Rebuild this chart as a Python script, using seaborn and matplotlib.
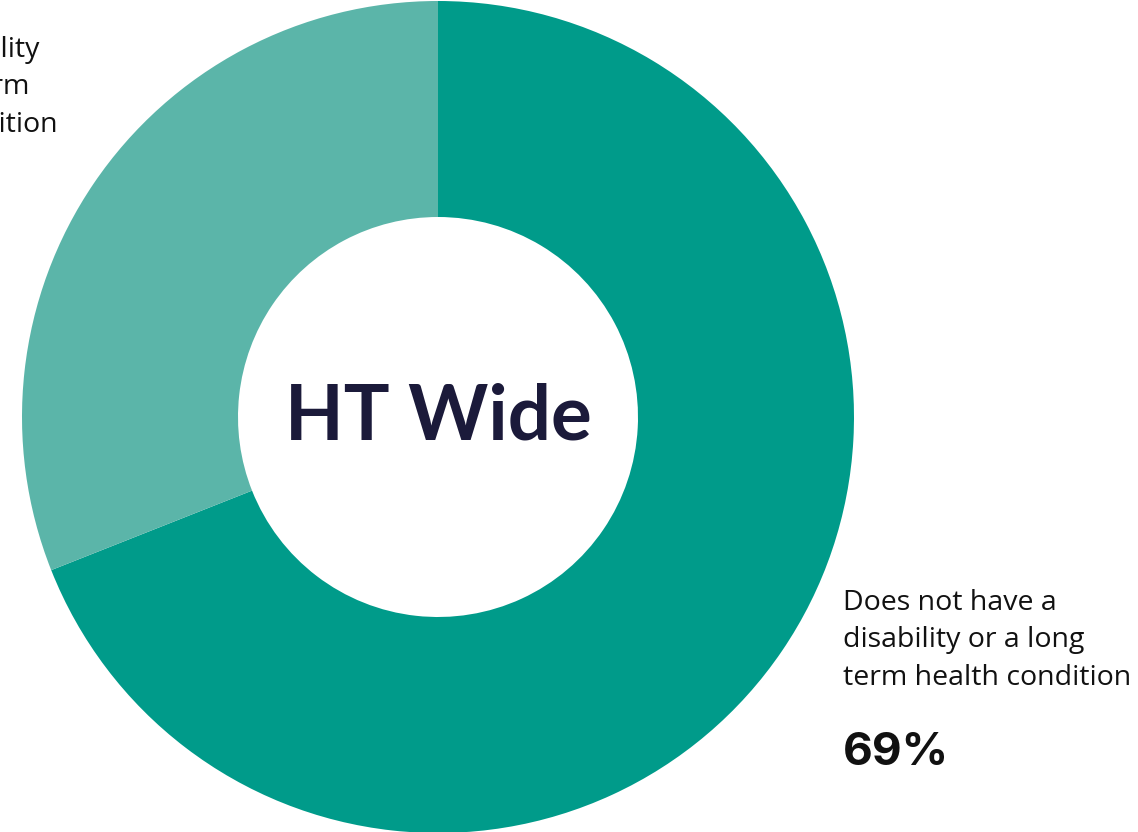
import matplotlib
matplotlib.use("Agg")
import matplotlib.pyplot as plt
import seaborn as sns

categories = ["Does not have a disability or a long term health condition",
              "Has a disability or a long term health condition"]
values = [69, 31]
colors = ["#009B8A", "#5BB5A9"]
center_label = "HT Wide"
right_label = "Does not have a\ndisability or a long\nterm health condition"
right_pct = "69%"
left_label = "Has a disability\nor a long term\nhealth condition"

sns.set_theme(style="white")
plt.rcParams['font.family'] = ['Open Sans', 'DejaVu Sans']

W, H = 1138, 832
fig = plt.figure(figsize=(W / 100, H / 100), dpi=100)
ax = fig.add_axes([0, 0, 1, 1])
ax.set_xlim(0, W)
ax.set_ylim(0, H)
ax.set_aspect("equal")
ax.axis("off")

cx, cy = 438, H - 417
R = 416
ax.pie(values, colors=colors, startangle=90, counterclock=False,
       center=(cx, cy), radius=R,
       wedgeprops=dict(width=R - 200, linewidth=0), frame=True)
ax.set_xlim(0, W)
ax.set_ylim(0, H)
ax.axis("off")

ax.text(cx, cy, center_label, ha="center", va="center", fontsize=55,
        fontweight="bold", color="#1B1A3A", family=["Lato", "DejaVu Sans"])

ax.text(843, H - 589, right_label, ha="left", va="top", fontsize=20.5,
        color="#111111", linespacing=1.45)
ax.text(843, H - 753, right_pct, ha="left", va="center", fontsize=33,
        fontweight="bold", fontstyle="normal", color="#111111",
        family=["Inter", "DejaVu Sans"])

ax.text(-159, H - 36, left_label, ha="left", va="top", fontsize=20.5,
        color="#111111", linespacing=1.45)

fig.savefig("out.png", dpi=100, facecolor="white")
